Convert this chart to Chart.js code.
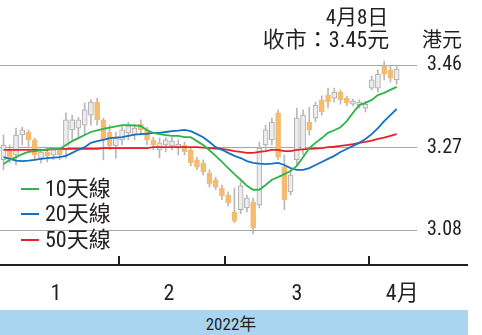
<!DOCTYPE html>
<html>
<head>
<meta charset="utf-8">
<script src="https://cdn.jsdelivr.net/npm/chart.js@4.4.1/dist/chart.umd.min.js"></script>
<style>
  html,body{margin:0;padding:0;background:#fff;}
  #wrap{position:relative;width:482px;height:335px;overflow:hidden;background:#fff;}
  #c{position:absolute;left:0;top:0;}
  .t{position:absolute;white-space:nowrap;color:#231f20;line-height:1;transform:translate(-50%,-50%);
     font-family:"Liberation Sans Narrow","Roboto Condensed","Arial Narrow",Roboto,"Noto Sans CJK TC",sans-serif;}
  .lg{position:absolute;left:21px;height:26px;line-height:26px;color:#231f20;font-size:22px;
      font-family:"Liberation Sans Narrow","Roboto Condensed",Roboto,"Noto Sans CJK TC",sans-serif;}
  .lg i{display:inline-block;width:18px;height:2px;vertical-align:middle;margin-right:6px;position:relative;top:-1px;}
  #band{position:absolute;left:0;top:310px;width:468px;height:25px;background:#aad5f0;}
</style>
</head>
<body>
<div id="wrap">
  <canvas id="c" width="482" height="335"></canvas>
  <div class="t" style="left:357px;top:17px;font-size:21px;">4月8日</div>
  <div class="t" style="left:326px;top:40px;font-size:22px;">收市：3.45元</div>
  <div class="t" style="left:442px;top:40px;font-size:20px;">港元</div>
  <div class="lg" style="top:176px;"><i style="background:#2fb34a"></i>10天線</div>
  <div class="lg" style="top:201px;"><i style="background:#1572c2"></i>20天線</div>
  <div class="lg" style="top:227px;"><i style="background:#e5222a"></i>50天線</div>
  <div id="band"><div class="t" style="left:231px;top:14px;font-size:17px;">2022年</div></div>
</div>
<script>
// ---- data ----
const dates = [
  '1/5','1/6','1/7','1/10','1/11','1/12','1/13','1/14','1/17','1/18','1/19','1/20','1/21','1/24','1/25','1/26','1/27','1/28','1/31',
  '2/4','2/7','2/8','2/9','2/10','2/11','2/14','2/15','2/16','2/17','2/18','2/21','2/22','2/23','2/24','2/25','2/28',
  '3/1','3/2','3/3','3/4','3/7','3/8','3/9','3/10','3/11','3/14','3/15','3/16','3/17','3/18','3/21','3/22','3/23','3/24','3/25','3/28','3/29','3/30','3/31',
  '4/1','4/4','4/6','4/7','4/8'
];
const openP  = [3.242,3.265,3.253,3.299,3.306,3.288,3.246,3.260,3.253,3.265,3.265,3.311,3.315,3.322,3.345,3.375,3.334,3.306,3.274,
                3.288,3.304,3.299,3.324,3.311,3.288,3.265,3.276,3.274,3.269,3.276,3.265,3.242,3.235,3.212,3.196,3.177,
                3.161,3.122,3.127,3.131,3.145,3.138,3.276,3.288,3.350,3.225,3.168,3.242,3.265,3.329,3.338,3.380,3.391,3.384,3.398,3.384,3.370,3.368,3.361,
                3.407,3.407,3.458,3.449,3.426];
const highP  = [3.299,3.276,3.315,3.317,3.311,3.292,3.265,3.269,3.271,3.271,3.350,3.345,3.340,3.373,3.380,3.384,3.338,3.322,3.306,
                3.320,3.329,3.324,3.334,3.317,3.294,3.292,3.294,3.294,3.288,3.283,3.271,3.248,3.242,3.219,3.202,3.184,
                3.168,3.177,3.191,3.161,3.154,3.283,3.322,3.338,3.357,3.253,3.219,3.361,3.357,3.363,3.375,3.389,3.407,3.407,3.403,3.389,3.382,3.380,3.377,
                3.435,3.449,3.469,3.458,3.458];
const lowP   = [3.219,3.235,3.230,3.276,3.269,3.242,3.235,3.237,3.242,3.242,3.246,3.288,3.292,3.299,3.322,3.322,3.242,3.265,3.246,
                3.276,3.288,3.288,3.299,3.276,3.265,3.246,3.260,3.265,3.253,3.253,3.228,3.219,3.207,3.179,3.173,3.150,
                3.136,3.097,3.118,3.122,3.071,3.131,3.265,3.276,3.242,3.127,3.161,3.230,3.253,3.299,3.329,3.345,3.361,3.375,3.370,3.366,3.366,3.361,3.352,
                3.403,3.398,3.426,3.421,3.416];
const closeP = [3.276,3.246,3.299,3.311,3.288,3.253,3.260,3.251,3.265,3.253,3.334,3.334,3.334,3.357,3.375,3.334,3.288,3.274,3.292,
                3.311,3.320,3.315,3.311,3.288,3.276,3.281,3.288,3.285,3.278,3.260,3.235,3.225,3.214,3.186,3.179,3.159,
                3.143,3.101,3.182,3.154,3.085,3.269,3.311,3.329,3.248,3.150,3.207,3.338,3.345,3.311,3.368,3.352,3.375,3.398,3.380,3.373,3.377,3.375,3.370,
                3.426,3.439,3.439,3.430,3.451];
const ma10 = [3.232,3.242,3.248,3.255,3.260,3.262,3.264,3.266,3.267,3.267,3.276,3.285,3.292,3.299,3.306,3.310,3.313,3.316,3.319,
              3.322,3.322,3.321,3.320,3.310,3.304,3.301,3.299,3.297,3.297,3.294,3.294,3.285,3.276,3.264,3.251,3.237,
              3.223,3.209,3.196,3.182,3.173,3.173,3.184,3.196,3.202,3.209,3.216,3.228,3.248,3.269,3.281,3.292,3.304,3.310,3.317,3.331,3.350,3.368,3.373,
              3.380,3.391,3.396,3.403,3.410];
const ma20 = [3.248,3.244,3.240,3.239,3.240,3.242,3.244,3.246,3.247,3.248,3.251,3.258,3.265,3.271,3.281,3.285,3.288,3.292,3.293,
              3.294,3.297,3.300,3.301,3.302,3.304,3.304,3.306,3.308,3.309,3.311,3.308,3.301,3.294,3.283,3.271,3.265,
              3.258,3.251,3.246,3.239,3.235,3.233,3.232,3.233,3.235,3.230,3.223,3.219,3.219,3.223,3.230,3.237,3.244,3.251,3.260,3.267,3.274,3.281,3.290,
              3.301,3.315,3.331,3.345,3.359];
const ma50 = [3.265,3.265,3.265,3.265,3.265,3.265,3.265,3.265,3.267,3.267,3.267,3.267,3.267,3.267,3.267,3.267,3.269,3.269,3.269,
              3.269,3.269,3.269,3.269,3.269,3.271,3.271,3.271,3.271,3.271,3.271,3.271,3.271,3.270,3.269,3.268,3.267,
              3.265,3.262,3.260,3.258,3.258,3.260,3.262,3.265,3.265,3.262,3.262,3.265,3.266,3.267,3.268,3.269,3.271,3.272,3.274,3.276,3.278,3.281,3.283,
              3.286,3.290,3.293,3.297,3.301];
const yTickValues = [3.08, 3.27, 3.46];
const monthLabels = ['1', '2', '3', '4月'];

// ---- build ----
const idx = dates.map((_, k) => k + 1);
const NUM_FONT = '"Liberation Sans Narrow","Roboto Condensed","Arial Narrow",Roboto,"Noto Sans CJK TC",sans-serif';
const isDown = k => closeP[k] < openP[k];

// month boundaries and label anchors
const monthOf = d => d.split('/')[0];
const boundaries = [];
for (let k = 1; k < dates.length; k++) if (monthOf(dates[k]) !== monthOf(dates[k-1])) boundaries.push(k + 0.5);
const labelAnchors = [9.4, 27.5, 48.0, 64.9];

const axisDeco = {
  id: 'axisDeco',
  afterDraw(chart) {
    const ctx = chart.ctx, xs = chart.scales.x, b = chart.chartArea.bottom;
    ctx.save();
    ctx.strokeStyle = '#231f20';
    ctx.lineWidth = 2;
    ctx.beginPath(); ctx.moveTo(0, b + 1); ctx.lineTo(468, b + 1); ctx.stroke();
    boundaries.forEach(v => {
      const px = Math.round(xs.getPixelForValue(v));
      ctx.beginPath(); ctx.moveTo(px, b - 8); ctx.lineTo(px, b + 1); ctx.stroke();
    });
    ctx.restore();
  }
};

new Chart(document.getElementById('c'), {
  type: 'bar',
  data: {
    datasets: [
      { type: 'line', label: '10天線', data: idx.map((x, k) => ({ x, y: ma10[k] })), borderColor: '#2fb34a', borderWidth: 1.8, pointRadius: 0, tension: 0, order: 0 },
      { type: 'line', label: '20天線', data: idx.map((x, k) => ({ x, y: ma20[k] })), borderColor: '#1572c2', borderWidth: 1.8, pointRadius: 0, tension: 0, order: 0 },
      { type: 'line', label: '50天線', data: idx.map((x, k) => ({ x, y: ma50[k] })), borderColor: '#e5222a', borderWidth: 1.8, pointRadius: 0, tension: 0, order: 0 },
      { label: 'body', data: idx.map((x, k) => ({ x, y: [openP[k], closeP[k]] })),
        backgroundColor: idx.map((_, k) => isDown(k) ? '#f5bb6e' : '#ececec'),
        borderColor: idx.map((_, k) => isDown(k) ? '#f5bb6e' : '#ababab'),
        borderWidth: 1, borderSkipped: false, barThickness: 5, grouped: false, order: 2 },
      { label: 'wick', data: idx.map((x, k) => ({ x, y: [lowP[k], highP[k]] })),
        backgroundColor: '#b8b8b8', barThickness: 1, grouped: false, order: 3 }
    ]
  },
  options: {
    responsive: false,
    animation: false,
    events: [],
    layout: { padding: { left: 0, top: 0, right: 0, bottom: 25 } },
    plugins: { legend: { display: false }, tooltip: { enabled: false } },
    scales: {
      x: { type: 'linear', min: 0.433, max: 67.26, offset: false, display: false },
      xm: { type: 'linear', axis: 'x', position: 'bottom', min: 0.433, max: 67.26, offset: false,
            grid: { display: false }, border: { display: false },
            afterBuildTicks: s => { s.ticks = labelAnchors.map(v => ({ value: v })); },
            afterFit: s => { s.height = 46; },
            ticks: { padding: 9, color: '#231f20', maxRotation: 0, autoSkip: false,
                     font: { family: NUM_FONT, size: 22 },
                     callback: (v, i) => monthLabels[i] } },
      y: { position: 'right', min: 3.002, max: 3.61,
           afterBuildTicks: s => { s.ticks = yTickValues.map(v => ({ value: v })); },
           afterFit: s => { s.width = 65; s.paddingTop = 0; s.paddingBottom = 0; },
           grid: { color: '#a6a6a6', lineWidth: 1, drawTicks: false },
           border: { display: false },
           ticks: { padding: 10, color: '#231f20', font: { family: NUM_FONT, size: 20 },
                    callback: v => Number(v).toFixed(2) } }
    }
  },
  plugins: [axisDeco]
});
</script>
</body>
</html>
